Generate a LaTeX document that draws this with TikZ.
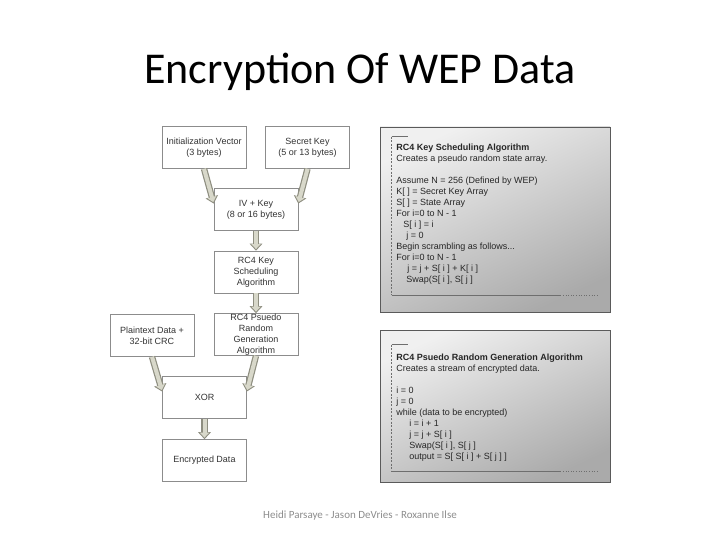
\documentclass[tikz,border=0pt]{standalone}
\usepackage{fontspec}
\setmainfont{Liberation Sans}
\newfontfamily\slidefont{Carlito}
\usetikzlibrary{arrows.meta}

\definecolor{boxline}{HTML}{8C8C8C}
\definecolor{boxtext}{HTML}{333333}
\definecolor{arrowline}{HTML}{8E8E80}
\definecolor{arrowfill}{HTML}{D8D8CA}
\definecolor{panelline}{HTML}{5A5A5A}
\definecolor{panelhi}{HTML}{F0F0F0}
\definecolor{panello}{HTML}{AAAAAA}
\definecolor{framegray}{HTML}{6E6E6E}
\definecolor{footgray}{HTML}{8C8C8C}

\begin{document}
\begin{tikzpicture}[x=1pt,y=-1pt,thick]
  \tikzstyle{flowbox}=[draw=boxline, fill=white, line width=0.6pt, minimum width=84pt, minimum height=42pt, inner sep=0pt, align=center, text=boxtext, font=\fontsize{9}{11}\selectfont]
  \tikzstyle{blockarrow}=[line width=6.4pt, draw=arrowline, -{Triangle[length=7pt,width=12.5pt]}, postaction={draw=arrowfill, line width=4pt, shorten >=1.6pt, -{Triangle[length=5pt,width=9pt]}}]
  \tikzstyle{panel}=[draw=panelline, line width=0.7pt, top color=panelhi, bottom color=panello, shading angle=25, minimum width=230pt, inner sep=0pt]
  \tikzstyle{code}=[anchor=north west, inner sep=0pt, align=left, text=black!85, font=\fontsize{9}{11}\selectfont]
  \tikzstyle{frame}=[draw=framegray, line width=0.6pt]

  \useasboundingbox (0,0) rectangle (720,540);

  \node[font=\slidefont\fontsize{44}{48}\selectfont, anchor=base] (title) at (360,84) {Encryption Of WEP Data};
  \node[font=\slidefont\fontsize{11}{13}\selectfont, text=footgray, anchor=base] (footer) at (360,518) {Heidi Parsaye - Jason DeVries - Roxanne Ilse};

  % flow on the left
  \node[flowbox] (ivec) at (204,147.5) {Initialization Vector\\(3 bytes)};
  \node[flowbox] (secret) at (307.5,147.5) {Secret Key\\(5 or 13 bytes)};
  \node[flowbox] (ivkey) at (256,209.5) {IV + Key\\(8 or 16 bytes)};
  \node[flowbox] (ksa) at (256,272) {RC4 Key\\Scheduling\\Algorithm};
  \node[flowbox] (prga) at (256,334.5) {RC4 Psuedo\\Random\\Generation\\Algorithm};
  \node[flowbox] (plain) at (152,335.5) {Plaintext Data +\\32-bit CRC};
  \node[flowbox] (xor) at (204.5,397.5) {XOR};
  \node[flowbox] (encrypted) at (204.5,460.5) {Encrypted Data};

  \draw[blockarrow] (ivec.south) -- (ivkey.172);
  \draw[blockarrow] (secret.south) -- (ivkey.8);
  \draw[blockarrow] (ivkey) -- (ksa);
  \draw[blockarrow] (ksa) -- (prga);
  \draw[blockarrow] (plain.south) -- (xor.172);
  \draw[blockarrow] (prga.south) -- (xor.8);
  \draw[blockarrow] (xor) -- (encrypted);

  % algorithm panels on the right
  \node[panel, minimum height=185pt] (kspanel) at (495,219.5) {};
  \node[panel, minimum height=152pt] (prgpanel) at (495,406) {};

  \foreach \p/\t/\b in {kspanel/10/17, prgpanel/15/11} {
    \draw[frame] ([xshift=12pt,yshift=-\t pt]\p.north west) -- ++(16,0);
    \draw[frame, dash pattern=on 2pt off 1.5pt] ([xshift=12pt,yshift=-\t pt]\p.north west) -- ([xshift=12pt,yshift=\b pt]\p.south west);
    \draw[frame] ([xshift=12pt,yshift=\b pt]\p.south west) -- ([xshift=-50pt,yshift=\b pt]\p.south east);
    \draw[frame, dotted] ([xshift=-50pt,yshift=\b pt]\p.south east) -- ([xshift=-12pt,yshift=\b pt]\p.south east);
  }

  \node[code] (kstext) at (396,144) {\textbf{RC4 Key Scheduling Algorithm}\\
    Creates a pseudo random state array.\\[11pt]
    Assume N = 256 (Defined by WEP)\\
    K[ ] = Secret Key Array\\
    S[ ] = State Array\\
    For i=0 to N - 1\\
    \hspace*{7pt}S[ i ] = i\\
    \hspace*{10pt}j = 0\\
    Begin scrambling as follows...\\
    For i=0 to N - 1\\
    \hspace*{11pt}j = j + S[ i ] + K[ i ]\\
    \hspace*{10pt}Swap(S[ i ], S[ j ]};

  \node[code] (prgtext) at (396,354) {\textbf{RC4 Psuedo Random Generation Algorithm}\\
    Creates a stream of encrypted data.\\[11pt]
    i = 0\\
    j = 0\\
    while (data to be encrypted)\\
    \hspace*{13pt}i = i + 1\\
    \hspace*{13pt}j = j + S[ i ]\\
    \hspace*{13pt}Swap(S[ i ], S[ j ]\\
    \hspace*{13pt}output = S[ S[ i ] + S[ j ] ]};
\end{tikzpicture}
\end{document}
